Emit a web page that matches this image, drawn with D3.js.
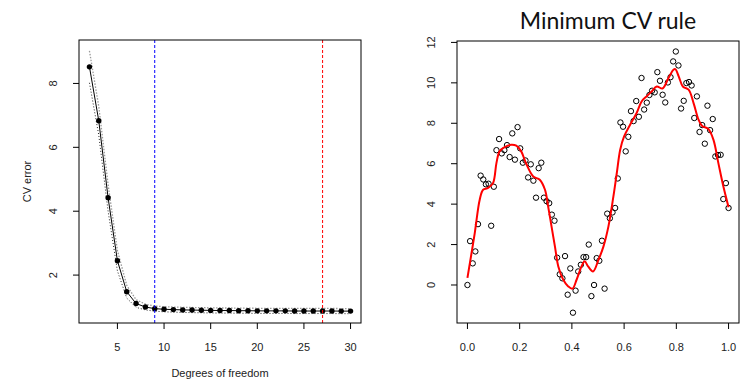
<!DOCTYPE html>
<html>
<head>
  <meta charset="UTF-8">
  <title>CV error and minimum CV rule</title>
  <style>
    body { margin: 0; background: #fff; }
    text { font-family: "Liberation Sans", Arial, sans-serif; fill: #222; }
  </style>
</head>
<body>
  <script src="https://cdn.jsdelivr.net/npm/d3@7"></script>
  <script>
    // left panel: CV error by degrees of freedom
    let dfs = [2, 3, 4, 5, 6, 7, 8, 9, 10, 11, 12, 13, 14, 15, 16, 17, 18, 19, 20, 21, 22, 23, 24, 25, 26, 27, 28, 29, 30]
    let cvErr = [8.52, 6.83, 4.42, 2.45, 1.48, 1.11, 1.00, 0.95, 0.93, 0.92, 0.91, 0.905, 0.90, 0.895, 0.89,
      0.89, 0.885, 0.885, 0.88, 0.88, 0.88, 0.88, 0.875, 0.875, 0.875, 0.875, 0.875, 0.872, 0.872]
    let cvSe = [0.50, 0.45, 0.42, 0.32, 0.20, 0.12, 0.09, 0.08, 0.08, 0.08, 0.08, 0.08, 0.08, 0.08, 0.08,
      0.08, 0.08, 0.08, 0.08, 0.08, 0.08, 0.08, 0.08, 0.08, 0.08, 0.08, 0.08, 0.08, 0.08]
    let dfMin = 27
    let dfOneSe = 9
    let dfTicks = [5, 10, 15, 20, 25, 30]
    let errTicks = [2, 4, 6, 8]

    // right panel: data and the fitted smoothing spline
    let yObs = [0.0, 2.17, 1.07, 1.66, 3.01, 5.41, 5.22, 4.98, 5.01, 2.93,
      4.86, 6.67, 7.22, 6.51, 6.67, 6.92, 6.33, 7.5, 6.2, 7.81,
      6.76, 6.05, 6.16, 5.32, 5.97, 5.16, 4.32, 5.78, 6.05, 4.32,
      4.15, 4.05, 3.48, 3.18, 1.35, 0.53, 0.33, 1.43, -0.48, 0.82,
      -1.37, -0.28, 0.67, 1.0, 1.38, 1.38, 2.0, -0.55, 0.0, 1.33,
      1.2, 2.19, -0.18, 3.53, 3.30, 3.59, 3.81, 5.27, 8.04, 7.83,
      6.61, 7.33, 8.6, 8.11, 9.1, 8.32, 10.24, 8.68, 9.02, 9.4,
      9.61, 9.53, 10.53, 10.1, 9.41, 9.03, 10.02, 10.28, 11.06, 11.55,
      10.86, 8.73, 9.11, 9.99, 10.04, 9.87, 8.26, 9.33, 7.57, 7.91,
      6.99, 8.87, 7.66, 8.21, 6.36, 6.43, 6.44, 4.25, 5.04, 3.81]
    let xObs = yObs.map((d, i) => i / (yObs.length - 1))
    let fitX = [0.0, 0.028, 0.047, 0.060, 0.079, 0.098, 0.111, 0.123, 0.143, 0.168, 0.187, 0.206, 0.225,
      0.252, 0.277, 0.297, 0.309, 0.322, 0.335, 0.348, 0.367, 0.386, 0.402, 0.418, 0.437, 0.449, 0.462,
      0.481, 0.502, 0.521, 0.540, 0.559, 0.572, 0.585, 0.600, 0.623, 0.648, 0.667, 0.686, 0.705, 0.725,
      0.747, 0.770, 0.789, 0.796, 0.809, 0.825, 0.847, 0.866, 0.885, 0.898, 0.923, 0.942, 0.961, 0.980, 1.0]
    let fitY = [0.35, 2.57, 4.22, 4.71, 4.80, 5.04, 6.03, 6.61, 6.82, 6.94, 6.89, 6.61, 6.00,
      5.37, 5.21, 4.71, 3.89, 2.90, 1.91, 0.92, 0.26, -0.07, -0.18, 0.26, 0.92, 1.17, 0.92,
      0.67, 1.25, 1.91, 2.90, 4.38, 5.54, 6.69, 7.35, 7.93, 8.51, 9.08, 9.33, 9.57, 9.82,
      9.72, 10.24, 10.65, 10.68, 10.32, 9.82, 9.66, 9.00, 8.18, 7.88, 7.71, 7.19, 6.03, 4.88, 3.85]
    let xTicks = [0, 0.2, 0.4, 0.6, 0.8, 1.0]
    let yTicks = [0, 2, 4, 6, 8, 10, 12]

    let svg = d3.select('body').append('svg')
      .attr('width', 740)
      .attr('height', 384)

    let tickLen = 6

    // ---------- left panel ----------
    let L = { left: 79, right: 361, top: 40, bottom: 323 }
    let xL = d3.scaleLinear().domain([0.88, 31.12]).range([L.left, L.right])
    let yL = d3.scaleLinear().domain([0.5, 9.36]).range([L.bottom, L.top])

    let gL = svg.append('g')

    let bandLine = key => d3.line()
      .x((d, i) => xL(dfs[i]))
      .y((d, i) => yL(key(i)))

    gL.append('path')
      .datum(cvErr)
      .attr('d', bandLine(i => cvErr[i] + cvSe[i]))
      .attr('fill', 'none')
      .attr('stroke', '#999')
      .attr('stroke-width', 1.3)
      .attr('stroke-dasharray', '1.5,1.5')
    gL.append('path')
      .datum(cvErr)
      .attr('d', bandLine(i => cvErr[i] - cvSe[i]))
      .attr('fill', 'none')
      .attr('stroke', '#222')
      .attr('stroke-width', 1)
      .attr('stroke-dasharray', '1,2')

    gL.append('path')
      .datum(cvErr)
      .attr('d', d3.line().x((d, i) => xL(dfs[i])).y(d => yL(d)))
      .attr('fill', 'none')
      .attr('stroke', '#000')
      .attr('stroke-width', 1)

    gL.selectAll('circle')
      .data(cvErr)
      .enter()
      .append('circle')
      .attr('cx', (d, i) => xL(dfs[i]))
      .attr('cy', d => yL(d))
      .attr('r', 2.7)
      .attr('fill', '#000')

    // vertical markers
    gL.append('line')
      .attr('x1', xL(dfOneSe)).attr('x2', xL(dfOneSe))
      .attr('y1', L.top).attr('y2', L.bottom)
      .attr('stroke', '#0000ff')
      .attr('stroke-dasharray', '3,2')
    gL.append('line')
      .attr('x1', xL(dfMin)).attr('x2', xL(dfMin))
      .attr('y1', L.top).attr('y2', L.bottom)
      .attr('stroke', '#ff0000')
      .attr('stroke-dasharray', '3,2')

    // box
    gL.append('rect')
      .attr('x', L.left).attr('y', L.top)
      .attr('width', L.right - L.left).attr('height', L.bottom - L.top)
      .attr('fill', 'none').attr('stroke', '#000')

    // x ticks
    gL.selectAll('.xt')
      .data(dfTicks)
      .enter()
      .append('line')
      .attr('x1', d => xL(d)).attr('x2', d => xL(d))
      .attr('y1', L.bottom).attr('y2', L.bottom + tickLen)
      .attr('stroke', '#000')
    gL.selectAll('.xl')
      .data(dfTicks)
      .enter()
      .append('text')
      .attr('x', d => xL(d))
      .attr('y', L.bottom + 28)
      .attr('text-anchor', 'middle')
      .attr('font-size', 11)
      .text(d => d)

    // y ticks
    gL.selectAll('.yt')
      .data(errTicks)
      .enter()
      .append('line')
      .attr('x1', L.left - tickLen).attr('x2', L.left)
      .attr('y1', d => yL(d)).attr('y2', d => yL(d))
      .attr('stroke', '#000')
    gL.selectAll('.yl')
      .data(errTicks)
      .enter()
      .append('text')
      .attr('transform', d => `translate(${L.left - 22},${yL(d)}) rotate(-90)`)
      .attr('text-anchor', 'middle')
      .attr('font-size', 11)
      .text(d => d)

    gL.append('text')
      .attr('x', (L.left + L.right) / 2)
      .attr('y', 377)
      .attr('text-anchor', 'middle')
      .attr('font-size', 11)
      .text('Degrees of freedom')
    gL.append('text')
      .attr('transform', `translate(31,${(L.top + L.bottom) / 2}) rotate(-90)`)
      .attr('text-anchor', 'middle')
      .attr('font-size', 11)
      .text('CV error')

    // ---------- right panel ----------
    let R = { left: 457, right: 739, top: 41, bottom: 323 }
    let xR = d3.scaleLinear().domain([-0.04, 1.04]).range([R.left, R.right])
    let yR = d3.scaleLinear().domain([-1.88, 12.07]).range([R.bottom, R.top])

    let gR = svg.append('g')

    gR.selectAll('circle')
      .data(yObs)
      .enter()
      .append('circle')
      .attr('cx', (d, i) => xR(xObs[i]))
      .attr('cy', d => yR(d))
      .attr('r', 2.7)
      .attr('fill', 'none')
      .attr('stroke', '#000')
      .attr('stroke-width', 1)

    gR.append('path')
      .datum(fitY)
      .attr('d', d3.line()
        .x((d, i) => xR(fitX[i]))
        .y(d => yR(d))
        .curve(d3.curveCatmullRom.alpha(0.5)))
      .attr('fill', 'none')
      .attr('stroke', '#ff0000')
      .attr('stroke-width', 2)

    gR.append('rect')
      .attr('x', R.left).attr('y', R.top)
      .attr('width', R.right - R.left).attr('height', R.bottom - R.top)
      .attr('fill', 'none').attr('stroke', '#000')

    gR.selectAll('.xt')
      .data(xTicks)
      .enter()
      .append('line')
      .attr('x1', d => xR(d)).attr('x2', d => xR(d))
      .attr('y1', R.bottom).attr('y2', R.bottom + tickLen)
      .attr('stroke', '#000')
    gR.selectAll('.xl')
      .data(xTicks)
      .enter()
      .append('text')
      .attr('x', d => xR(d))
      .attr('y', R.bottom + 28)
      .attr('text-anchor', 'middle')
      .attr('font-size', 11)
      .text(d => d3.format('.1f')(d))

    gR.selectAll('.yt')
      .data(yTicks)
      .enter()
      .append('line')
      .attr('x1', R.left - tickLen).attr('x2', R.left)
      .attr('y1', d => yR(d)).attr('y2', d => yR(d))
      .attr('stroke', '#000')
    gR.selectAll('.yl')
      .data(yTicks)
      .enter()
      .append('text')
      .attr('transform', d => `translate(${R.left - 22},${yR(d)}) rotate(-90)`)
      .attr('text-anchor', 'middle')
      .attr('font-size', 11)
      .text(d => d)

    gR.append('text')
      .attr('x', 608)
      .attr('y', 29)
      .attr('text-anchor', 'middle')
      .style('font-family', 'Lato, "Open Sans", sans-serif')
      .attr('font-size', 23)
      .style('fill', '#111')
      .text('Minimum CV rule')
  </script>
</body>
</html>
